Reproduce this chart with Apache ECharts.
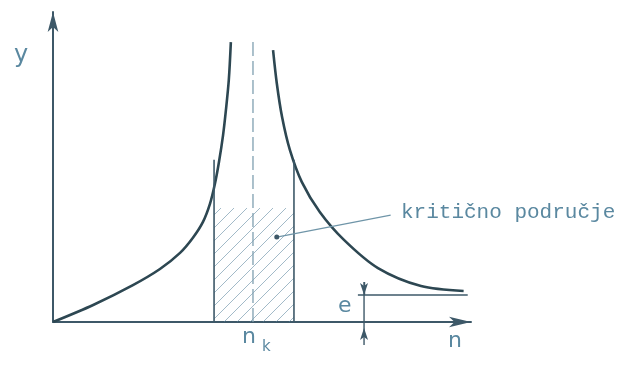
<!DOCTYPE html>
<html><head><meta charset="utf-8">
<script src="https://cdn.jsdelivr.net/npm/echarts@6/dist/echarts.min.js"></script>
<style>html,body{margin:0;padding:0;background:#fff}#c{width:622px;height:365px}</style>
</head><body><div id="c"></div>
<script>
// Left branch of the resonance curve (n, y)
const leftN = [0, 0.98, 1.95, 2.61, 3.10, 3.41, 3.66, 3.83, 3.95, 4.05, 4.15, 4.22, 4.29, 4.34];
const leftY = [0, 0.55, 1.19, 1.71, 2.23, 2.71, 3.23, 3.81, 4.45, 5.16, 6.03, 6.84, 7.81, 9.03];
// Right branch
const rightN = [5.37, 5.46, 5.59, 5.78, 6.07, 6.51, 7.10, 7.93, 8.98, 10.02];
const rightY = [8.77, 7.71, 6.61, 5.55, 4.52, 3.55, 2.65, 1.74, 1.16, 1.00];
// Critical speed and critical region
const nK = 4.88;
const nKTop = 9.16;
const regionN = [3.93, 5.88];
const regionLineTop = 5.23;
const regionHatchTop = 3.68;
// Asymptote e
const eValue = 0.87;
const eLineN = [7.44, 10.12];
const eDimN = 7.59;
const eDimY = [1.29, -0.74];
// Leader line for label
const leaderFrom = [5.46, 2.74];
const leaderTo = [8.24, 3.45];
const labels = { y: 'y', n: 'n', nk: 'n', k: 'k', e: 'e', region: 'kritično područje' };

const curveColor = '#2d4752';
const thinColor = '#3d5868';
const textColor = '#5a88a0';

const T = 13;
const pat = document.createElement('canvas');
pat.width = T; pat.height = T;
const pc = pat.getContext('2d');
pc.strokeStyle = 'rgba(85,130,155,0.55)';
pc.lineWidth = 1;
pc.beginPath();
pc.moveTo(0, T); pc.lineTo(T, 0);
pc.moveTo(-2, 2); pc.lineTo(2, -2);
pc.moveTo(T - 2, T + 2); pc.lineTo(T + 2, T - 2);
pc.stroke();

const zip = (a, b) => a.map((v, i) => [v, b[i]]);

const chart = echarts.init(document.getElementById('c'));
chart.setOption({
  animation: false,
  grid: { left: 53, top: 12, width: 418, height: 310 },
  xAxis: {
    type: 'value', min: 0, max: 10.2,
    axisLine: { show: true, symbol: ['none', 'arrow'], symbolSize: [8, 22], lineStyle: { color: thinColor, width: 2 } },
    axisTick: { show: false }, axisLabel: { show: false }, splitLine: { show: false }
  },
  yAxis: {
    type: 'value', min: 0, max: 10,
    axisLine: { show: true, symbol: ['none', 'arrow'], symbolSize: [8, 20], lineStyle: { color: thinColor, width: 2 } },
    axisTick: { show: false }, axisLabel: { show: false }, splitLine: { show: false }
  },
  series: [
    { type: 'line', data: zip(leftN, leftY), smooth: 0.3, showSymbol: false, lineStyle: { color: curveColor, width: 2.6 } },
    { type: 'line', data: zip(rightN, rightY), smooth: 0.3, showSymbol: false, lineStyle: { color: curveColor, width: 2.6 } },
    { type: 'line', data: [[nK, 0], [nK, nKTop]], showSymbol: false, lineStyle: { color: '#7f9fb0', width: 1.3, type: [14, 5] } },
    { type: 'line', data: [[regionN[0], 0], [regionN[0], regionLineTop]], showSymbol: false, lineStyle: { color: thinColor, width: 1.6 },
      markArea: { silent: true, itemStyle: { color: { image: pat, repeat: 'repeat' } },
        data: [[{ coord: [regionN[0], regionHatchTop] }, { coord: [regionN[1], 0] }]] } },
    { type: 'line', data: [[regionN[1], 0], [regionN[1], regionLineTop]], showSymbol: false, lineStyle: { color: thinColor, width: 1.6 } },
    { type: 'line', data: [[eLineN[0], eValue], [eLineN[1], eValue]], showSymbol: false, lineStyle: { color: thinColor, width: 1.4 } },
    { type: 'line', clip: false, data: [[eDimN, eDimY[0]], [eDimN, eDimY[1]]], showSymbol: false, lineStyle: { color: thinColor, width: 1.4 },
      markLine: { silent: true, label: { show: false }, symbol: ['none', 'arrow'], symbolSize: [6, 12],
        lineStyle: { color: thinColor, width: 1.4, type: 'solid' },
        data: [[{ coord: [eDimN, eDimY[0]] }, { coord: [eDimN, eValue] }]] },
      markPoint: { silent: true, label: { show: false }, symbol: 'arrow', symbolSize: [6, 12], symbolOffset: [0, '50%'],
        itemStyle: { color: thinColor }, data: [{ coord: [eDimN, 0] }] } },
    { type: 'line', data: [leaderFrom, leaderTo], showSymbol: false, lineStyle: { color: '#6f95a8', width: 1.2 },
      markPoint: { silent: true, symbol: 'circle', symbolSize: 5, itemStyle: { color: thinColor }, label: { show: false },
        data: [{ coord: leaderFrom }] } }
  ],
  graphic: [
    { type: 'text', left: 14, top: 44, style: { text: labels.y, font: '24px "DejaVu Sans"', fill: textColor } },
    { type: 'text', left: 448, top: 330, style: { text: labels.n, font: '22px "DejaVu Sans"', fill: textColor } },
    { type: 'text', left: 242, top: 326, style: { text: labels.nk, font: '22px "DejaVu Sans"', fill: textColor } },
    { type: 'text', left: 262, top: 340, style: { text: labels.k, font: '15px "DejaVu Sans"', fill: textColor } },
    { type: 'text', left: 338, top: 295, style: { text: labels.e, font: '22px "DejaVu Sans"', fill: textColor } },
    { type: 'text', left: 401, top: 202, style: { text: labels.region, font: '21px "Liberation Mono"', fill: textColor } }
  ]
});
</script></body></html>
